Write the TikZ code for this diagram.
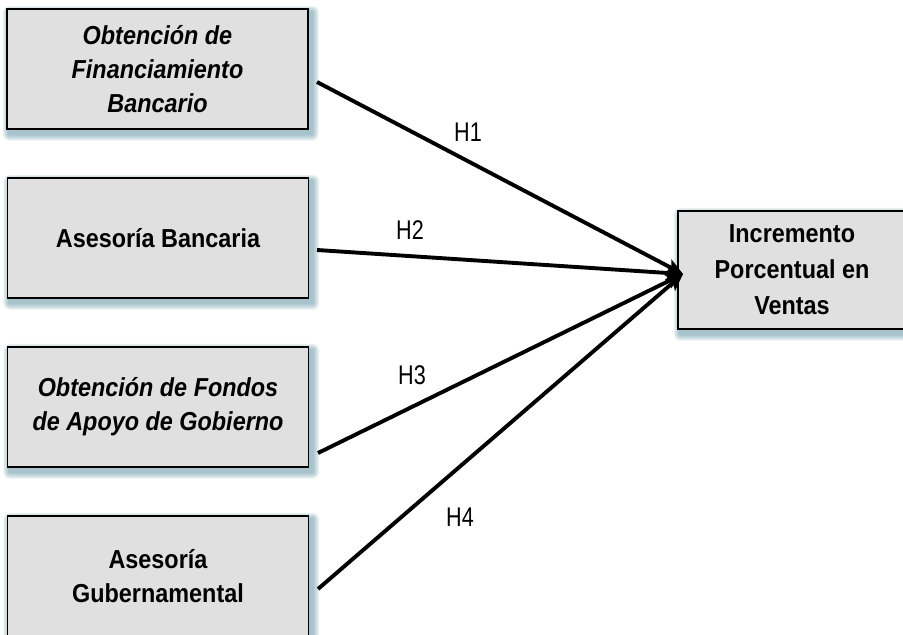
\documentclass[tikz,border=0pt]{standalone}
\usepackage{fontspec}
\setmainfont{Liberation Sans}
\newfontfamily\narrowfont{Liberation Sans}[FakeStretch=0.8]
\newfontfamily\boxfont{Liberation Sans}[FakeStretch=0.9]
\usetikzlibrary{arrows.meta,backgrounds}
\definecolor{boxfill}{HTML}{E0E0E0}
\definecolor{shadowc}{HTML}{4F8799}
\tikzset{
  boxnode/.style={draw=black, line width=1.8pt, fill=boxfill, rectangle,
    minimum width=301pt, minimum height=120pt, align=center,
    font=\boxfont\fontsize{26}{34}\selectfont\bfseries},
  conn/.style={line width=3.9pt, -{Stealth[length=17pt,width=15pt,inset=4pt]}},
  hlab/.style={font=\narrowfont\fontsize{27}{30}\selectfont}
}
\newcommand{\boxshadow}[1]{%
  \foreach \k in {1,...,7}{%
    \fill[shadowc, opacity=0.09, rounded corners=\k pt]
      ([xshift={3pt-\k pt*0.9}, yshift={-4pt+\k pt*0.9}]#1.north west)
      rectangle ([xshift={3pt+\k pt}, yshift={-4pt-\k pt}]#1.south east);
  }}
\begin{document}
\begin{tikzpicture}[x=1pt,y=-1pt]
\useasboundingbox (0,0) rectangle (903,635);
\node[boxnode] (b1) at (157.5,69) {\itshape Obtención de\\ \itshape Financiamiento\\ \itshape Bancario};
\node[boxnode] (b2) at (158,238) {Asesoría Bancaria};
\node[boxnode] (b3) at (158,407) {\itshape Obtención de Fondos\\ \itshape de Apoyo de Gobierno};
\node[boxnode] (b4) at (158,576) {Asesoría\\ Gubernamental};
\node[boxnode, minimum width=228pt, minimum height=118pt, font=\boxfont\fontsize{26}{36}\selectfont\bfseries] (r) at (792,270) {Incremento\\ Porcentual en\\ Ventas};
\begin{scope}[on background layer]
  \fill[white] (0,0) rectangle (903,635);
  \boxshadow{b1}\boxshadow{b2}\boxshadow{b3}\boxshadow{b4}\boxshadow{r}
\end{scope}
\coordinate (s1) at (317,82);
\coordinate (s2) at (317,250);
\coordinate (s3) at (318,453);
\coordinate (s4) at (318,589);
\coordinate (t) at (683,274);
\draw[conn] (s1) -- (t);
\draw[conn] (s2) -- (t);
\draw[conn] (s3) -- (t);
\draw[conn] (s4) -- (t);
\node[hlab] (h1) at (468,132) {H1};
\node[hlab] (h2) at (410,230) {H2};
\node[hlab] (h3) at (412,375) {H3};
\node[hlab] (h4) at (460,517) {H4};
\end{tikzpicture}
\end{document}
